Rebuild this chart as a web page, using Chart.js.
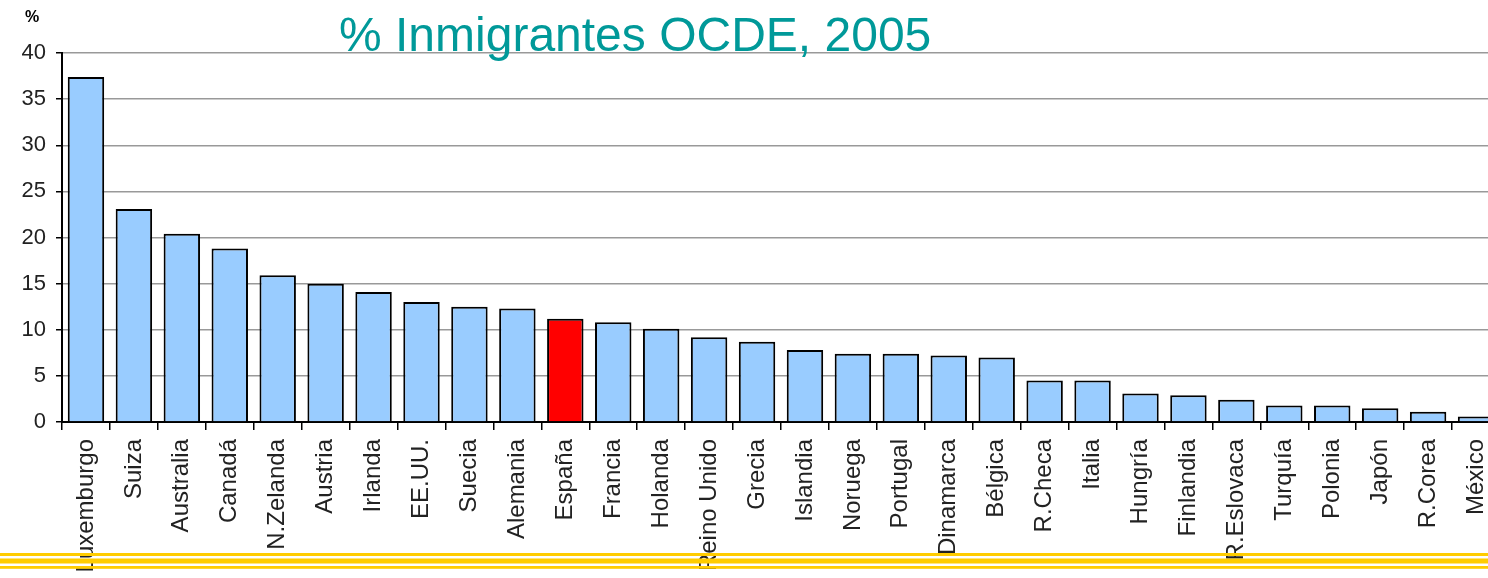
<!DOCTYPE html>
<html>
<head>
<meta charset="utf-8">
<script src="https://cdn.jsdelivr.net/npm/chart.js@4"></script>
<style>
  html, body { margin: 0; padding: 0; background: #fff; overflow: hidden; }
  #wrap { position: relative; width: 1488px; height: 578px; }
  #titulo {
    position: absolute; left: 339px; top: 7px;
    font: 48px "Liberation Sans", Arial, sans-serif; color: #009999;
    white-space: nowrap; z-index: 2; line-height: 56px;
  }
  #pct {
    position: absolute; left: 25px; top: 8px;
    font: bold 16px "Liberation Sans", Arial, sans-serif; color: #000;
  }
</style>
</head>
<body>
<div id="wrap">
  <div id="pct">%</div>
  <div id="titulo">% Inmigrantes OCDE, 2005</div>
  <canvas id="myChart" width="1488" height="578"></canvas>
</div>
<script>
const paises = ["Luxemburgo", "Suiza", "Australia", "Canadá", "N.Zelanda", "Austria", "Irlanda", "EE.UU.",
  "Suecia", "Alemania", "España", "Francia", "Holanda", "Reino Unido", "Grecia", "Islandia", "Noruega",
  "Portugal", "Dinamarca", "Bélgica", "R.Checa", "Italia", "Hungría", "Finlandia", "R.Eslovaca",
  "Turquía", "Polonia", "Japón", "R.Corea", "México"];
const porcentajes = [37.4, 23.1, 20.4, 18.8, 15.9, 15.0, 14.1, 13.0, 12.5, 12.3, 11.2, 10.8, 10.1, 9.2,
  8.7, 7.8, 7.4, 7.4, 7.2, 7.0, 4.5, 4.5, 3.1, 2.9, 2.4, 1.8, 1.8, 1.5, 1.1, 0.6];
const destacado = "España";

// colores: azul claro, y rojo para España
const colores = paises.map(p => p === destacado ? "#FF0000" : "#99CCFF");

// el grafico original se sale por la derecha: alargar el eje x
const ensanchar = {
  id: "ensanchar",
  afterLayout(chart) {
    const derecha = 1500;
    const x = chart.scales.x;
    x.right = derecha;
    x.width = derecha - x.left;
    x.configure();
    x._gridLineItems = null;
    x._labelItems = null;
    chart.scales.y._gridLineItems = null;
    chart.chartArea.right = derecha;
    chart.chartArea.width = derecha - chart.chartArea.left;
  }
};

// lineas amarillas al pie
const lineasAmarillas = {
  id: "lineasAmarillas",
  afterDraw(chart) {
    const c = chart.ctx;
    c.save();
    c.fillStyle = "#FFCC00";
    c.fillRect(0, 553, chart.width, 3);
    c.fillRect(0, 558.5, chart.width, 5);
    c.fillRect(0, 566, chart.width, 2.8);
    c.restore();
  }
};

let ctx = document.getElementById("myChart").getContext("2d");
let myChart = new Chart(ctx, {
  type: "bar",
  data: {
    labels: paises,
    datasets: [{
      data: porcentajes,
      backgroundColor: colores,
      borderColor: "#000",
      borderWidth: 2,
      barPercentage: 0.76,
      categoryPercentage: 1
    }]
  },
  options: {
    responsive: false,
    animation: false,
    devicePixelRatio: 1,
    layout: { padding: { top: 53, left: 0, right: 0, bottom: 0 } },
    plugins: { legend: { display: false }, tooltip: { enabled: false } },
    scales: {
      x: {
        afterFit: (axis) => { axis.height = 156; },
        grid: { offset: true, drawOnChartArea: false, color: "#000", lineWidth: 1.5, tickLength: 8 },
        border: { color: "#000", width: 2 },
        ticks: {
          minRotation: 90, maxRotation: 90, autoSkip: false, padding: 9,
          color: "#222", font: { family: "Liberation Sans", size: 24 }
        }
      },
      y: {
        min: 0, max: 40,
        afterFit: (axis) => { axis.width = 62; },
        grid: { color: "#999", lineWidth: 1.5, tickLength: 6, tickColor: "#000" },
        border: { color: "#000", width: 2 },
        ticks: {
          stepSize: 5, padding: 10, color: "#222",
          font: { family: "Liberation Sans", size: 22 }
        }
      }
    }
  },
  plugins: [ensanchar, lineasAmarillas]
});
</script>
</body>
</html>
